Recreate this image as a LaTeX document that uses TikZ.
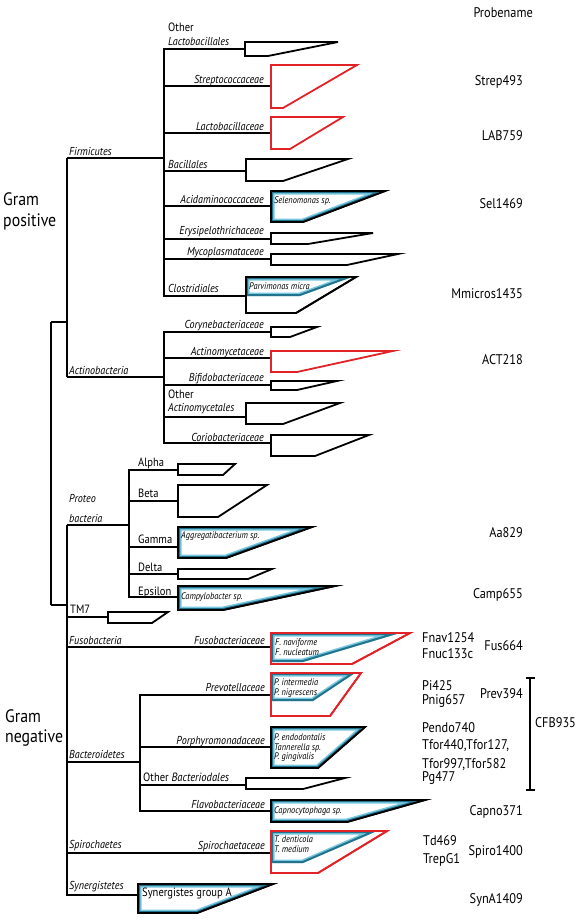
\documentclass[tikz,border=0pt]{standalone}
\usepackage{fontspec}
\setmainfont{PT Sans}[FakeStretch=0.88]
\definecolor{rot}{RGB}{225,35,40}
\definecolor{dunkelblau}{RGB}{35,115,140}
\definecolor{hellblau}{RGB}{120,200,225}
%Keil: Stil, x, oben, unten, Spitze, unten rechts
\newcommand{\keil}[6]{\draw[#1] (#2,#3) -- (#5,#3) -- (#6,#4) -- (#2,#4) -- cycle;}
%blaues Band innen
\newcommand{\band}[5]{%
  \begin{scope}
    \clip (#1,#2) -- (#4,#2) -- (#5,#3) -- (#1,#3) -- cycle;
    \draw[hellblau, line width=7pt] (#1,#2) -- (#4,#2) -- (#5,#3) -- (#1,#3) -- cycle;
    \draw[dunkelblau, line width=4pt] (#1,#2) -- (#4,#2) -- (#5,#3) -- (#1,#3) -- cycle;
  \end{scope}}
\begin{document}
\begin{tikzpicture}[x=1pt, y=-1pt,
                        ast/.style={line width=1.8pt},
                        keil/.style={draw=black, line width=1.8pt, fill=white},
                        rotkeil/.style={keil, draw=rot},
                        rand/.style={draw=black, line width=1.8pt},
                        rotrand/.style={rand, draw=rot},
                        lab/.style={font=\fontsize{11.5}{13}\selectfont\itshape, inner sep=0pt},
                        gr/.style={font=\fontsize{12}{14}\selectfont, inner sep=0pt},
                        klein/.style={font=\fontsize{9.5}{10}\selectfont\itshape, inner sep=0pt, anchor=base west},
                        probe/.style={font=\fontsize{14}{16}\selectfont, inner sep=0pt},
                        gram/.style={font=\fontsize{18}{20}\selectfont, inner sep=0pt, anchor=base west},
                        ]
                        \useasboundingbox (0,0) rectangle (581,919);
                        %Verzweigungen
                        \coordinate (wurzel-p) at (51,322);
                        \coordinate (wurzel-n) at (51,605);
                        \coordinate (gpos) at (67,322);
                        \coordinate (gneg) at (67,605);
                        \coordinate (firm) at (67,158);
                        \coordinate (firm-k) at (164,158);
                        \coordinate (act) at (67,377);
                        \coordinate (act-k) at (164,377);
                        \coordinate (prot) at (67,525);
                        \coordinate (prot-k) at (129,525);
                        \coordinate (bact-k) at (140,762);
                        %Blaetter
                        \coordinate (olac) at (245,49);
                        \coordinate (strep) at (271,86);
                        \coordinate (lacto) at (271,133);
                        \coordinate (bacil) at (246,171);
                        \coordinate (acid) at (271,206);
                        \coordinate (erys) at (271,239);
                        \coordinate (myco) at (271,259);
                        \coordinate (clos) at (246,296);
                        \coordinate (cory) at (271,332);
                        \coordinate (actm) at (271,358);
                        \coordinate (bifi) at (271,385);
                        \coordinate (oact) at (246,417);
                        \coordinate (corio) at (271,443);
                        \coordinate (alpha) at (178,470);
                        \coordinate (beta) at (178,501);
                        \coordinate (gamma) at (178,547);
                        \coordinate (delta) at (178,574);
                        \coordinate (eps) at (178,597);
                        \coordinate (tm7) at (108,617);
                        \coordinate (fuso) at (271,647);
                        \coordinate (prev) at (271,695);
                        \coordinate (porph) at (271,747);
                        \coordinate (obac) at (246,785);
                        \coordinate (flavo) at (271,811);
                        \coordinate (spiro) at (271,853);
                        \coordinate (syn) at (138,895);
                        %Baum
                        \draw[ast] (wurzel-p) -- (wurzel-n);
                        \draw[ast] (wurzel-p) -- (gpos);
                        \draw[ast] (wurzel-n) -- (gneg);
                        \draw[ast] (firm) -- (act);
                        \draw[ast] (firm) -- (firm-k);
                        \draw[ast] (act) -- (act-k);
                        \foreach \b in {olac,strep,lacto,bacil,acid,erys,myco,clos}
                        \draw[ast] (firm-k) |- (\b);
                        \foreach \b in {cory,actm,bifi,oact,corio}
                        \draw[ast] (act-k) |- (\b);
                        \draw[ast] (prot) |- (syn);
                        \draw[ast] (prot) -- (prot-k);
                        \foreach \b in {alpha,beta,gamma,delta,eps}
                        \draw[ast] (prot-k) |- (\b);
                        \foreach \b in {tm7,fuso,spiro}
                        \draw[ast] (prot) |- (\b);
                        \draw[ast] (prot) |- (bact-k);
                        \foreach \b in {prev,porph,obac,flavo}
                        \draw[ast] (bact-k) |- (\b);
                        %Keile Firmicutes
                        \keil{keil}{245}{42}{56}{338}{268}
                        \keil{rotkeil}{271}{65}{108}{357}{283}
                        \keil{rotkeil}{271}{117}{149}{343}{290}
                        \keil{keil}{246}{159}{181}{348}{283}
                        \keil{keil}{271}{191}{222}{385}{303}
                        \band{271}{191}{222}{385}{303}
                        \keil{rand}{271}{191}{222}{385}{303}
                        \keil{keil}{271}{233}{244}{373}{308}
                        \keil{keil}{271}{254}{265}{398}{347}
                        \keil{keil}{246}{277}{313}{356}{296}
                        \band{246}{277}{296}{352}{300}
                        \keil{rand}{246}{277}{313}{356}{296}
                        %Keile Actinobacteria
                        \keil{keil}{271}{327}{337}{317}{290}
                        \keil{rotkeil}{271}{351}{372}{393}{297}
                        \keil{keil}{271}{381}{390}{337}{297}
                        \keil{keil}{246}{403}{424}{340}{283}
                        \keil{keil}{271}{435}{456}{369}{315}
                        %Keile Proteobacteria, TM7
                        \keil{keil}{178}{464}{475}{235}{223}
                        \keil{keil}{178}{485}{517}{267}{218}
                        \keil{keil}{178}{527}{558}{312}{226}
                        \band{178}{527}{558}{312}{226}
                        \keil{rand}{178}{527}{558}{312}{226}
                        \keil{keil}{178}{569}{579}{272}{248}
                        \keil{keil}{178}{586}{610}{335}{223}
                        \band{178}{586}{610}{335}{223}
                        \keil{rand}{178}{586}{610}{335}{223}
                        \keil{keil}{108}{612}{623}{168}{152}
                        %Keile Gram negativ
                        \keil{rotkeil}{271}{633}{664}{410}{352}
                        \band{271}{633}{662}{400}{303}
                        \keil{rotrand}{271}{633}{664}{410}{352}
                        \keil{rotkeil}{271}{673}{716}{361}{330}
                        \band{271}{673}{701}{355}{313}
                        \keil{rotrand}{271}{673}{716}{361}{330}
                        \keil{keil}{271}{727}{768}{365}{318}
                        \band{271}{727}{768}{365}{318}
                        \keil{rand}{271}{727}{768}{365}{318}
                        \keil{keil}{246}{778}{789}{345}{303}
                        \keil{keil}{271}{800}{822}{425}{347}
                        \band{271}{800}{822}{425}{347}
                        \keil{rand}{271}{800}{822}{425}{347}
                        \keil{rotkeil}{271}{831}{873}{387}{318}
                        \band{271}{831}{863}{377}{303}
                        \keil{rotrand}{271}{831}{873}{387}{318}
                        \keil{keil}{138}{884}{913}{273}{197}
                        \band{138}{884}{913}{273}{197}
                        \keil{rand}{138}{884}{913}{273}{197}
                        %Beschriftung Firmicutes
                        \node[lab, anchor=base west] (l-firm) at (69,155) {Firmicutes};
                        \node[gr, anchor=base west] (l-olac1) at (168,31) {Other};
                        \node[lab, anchor=base west] (l-olac2) at (168,45) {Lactobacillales};
                        \node[lab, anchor=base east] (l-strep) at (264,83) {Streptococcaceae};
                        \node[lab, anchor=base east] (l-lacto) at (264,130) {Lactobacillaceae};
                        \node[lab, anchor=base west] (l-bacil) at (168,168) {Bacillales};
                        \node[lab, anchor=base east] (l-acid) at (264,203) {Acidaminococcaceae};
                        \node[lab, anchor=base east] (l-erys) at (264,234) {Erysipelothrichaceae};
                        \node[lab, anchor=base east] (l-myco) at (264,255) {Mycoplasmataceae};
                        \node[lab, anchor=base west] (l-clos) at (168,292) {Clostridiales};
                        %Beschriftung Actinobacteria
                        \node[lab, anchor=base west] (l-act) at (69,374) {Actinobacteria};
                        \node[lab, anchor=base east] (l-cory) at (264,328) {Corynebacteriaceae};
                        \node[lab, anchor=base east] (l-actm) at (264,355) {Actinomycetaceae};
                        \node[lab, anchor=base east] (l-bifi) at (264,381) {Bifidobacteriaceae};
                        \node[gr, anchor=base west] (l-oact1) at (168,398) {Other};
                        \node[lab, anchor=base west] (l-oact2) at (168,411) {Actinomycetales};
                        \node[lab, anchor=base east] (l-corio) at (264,441) {Coriobacteriaceae};
                        %Beschriftung Proteobacteria
                        \node[lab, anchor=base west] (l-prot1) at (69,502) {Proteo};
                        \node[lab, anchor=base west] (l-prot2) at (69,522) {bacteria};
                        \node[gr, anchor=base west] (l-alpha) at (138,466) {Alpha};
                        \node[gr, anchor=base west] (l-beta) at (138,497) {Beta};
                        \node[gr, anchor=base west] (l-gamma) at (138,543) {Gamma};
                        \node[gr, anchor=base west] (l-delta) at (138,571) {Delta};
                        \node[gr, anchor=base west] (l-eps) at (138,595) {Epsilon};
                        \node[gr, anchor=base west] (l-tm7) at (70,613) {TM7};
                        %Beschriftung Gram negativ
                        \node[lab, anchor=base west] (l-fuso) at (69,644) {Fusobacteria};
                        \node[lab, anchor=base east] (l-fusf) at (265,644) {Fusobacteriaceae};
                        \node[lab, anchor=base west] (l-bact) at (69,758) {Bacteroidetes};
                        \node[lab, anchor=base east] (l-prev) at (265,691) {Prevotellaceae};
                        \node[lab, anchor=base east] (l-porph) at (265,744) {Porphyromonadaceae};
                        \node[gr, anchor=base west] (l-obac) at (143,781) {Other \textit{Bacteriodales}};
                        \node[lab, anchor=base east] (l-flavo) at (265,808) {Flavobacteriaceae};
                        \node[lab, anchor=base west] (l-spiro) at (69,848) {Spirochaetes};
                        \node[lab, anchor=base east] (l-spirf) at (265,849) {Spirochaetaceae};
                        \node[lab, anchor=base west] (l-syn) at (69,889) {Synergistetes};
                        %Arten in den Keilen
                        \node[klein] (k-sel) at (274,203) {Selenomonas sp.};
                        \node[klein] (k-parv) at (249,289) {Parvimonas micra};
                        \node[klein] (k-aggr) at (181,538) {Aggregatibacterium sp.};
                        \node[klein] (k-camp) at (181,599) {Campylobacter sp.};
                        \node[klein] (k-fnav) at (275,645) {F. naviforme};
                        \node[klein] (k-fnuc) at (275,655) {F. nucleatum};
                        \node[klein] (k-pint) at (274,685) {P. intermedia};
                        \node[klein] (k-pnig) at (274,695) {P. nigrescens};
                        \node[klein] (k-pend) at (274,740) {P. endodontalis};
                        \node[klein] (k-tann) at (274,750) {Tannerella sp.};
                        \node[klein] (k-pgin) at (274,759) {P. gingivalis};
                        \node[klein] (k-capn) at (274,813) {Capnocytophaga sp.};
                        \node[klein] (k-tden) at (274,842) {T. denticola};
                        \node[klein] (k-tmed) at (274,852) {T. medium};
                        \node[gr, anchor=base west] (k-syn) at (142,896) {Synergistes group A};
                        %Gram
                        \node[gram] (gp1) at (3,205) {Gram};
                        \node[gram] (gp2) at (3,226) {positive};
                        \node[gram] (gn1) at (5,722) {Gram};
                        \node[gram] (gn2) at (5,742) {negative};
                        %Sonden
                        \node[probe, anchor=base east] (s-kopf) at (533,17) {Probename};
                        \node[probe, anchor=base east] (s-strep) at (523,85) {Strep493};
                        \node[probe, anchor=base east] (s-lab) at (523,140) {LAB759};
                        \node[probe, anchor=base east] (s-sel) at (523,208) {Sel1469};
                        \node[probe, anchor=base east] (s-mmic) at (523,298) {Mmicros1435};
                        \node[probe, anchor=base east] (s-act) at (523,364) {ACT218};
                        \node[probe, anchor=base east] (s-aa) at (523,537) {Aa829};
                        \node[probe, anchor=base east] (s-camp) at (523,598) {Camp655};
                        \node[probe, anchor=base west] (s-fnav) at (422,642) {Fnav1254};
                        \node[probe, anchor=base west] (s-fnuc) at (422,658) {Fnuc133c};
                        \node[probe, anchor=base east] (s-fus) at (523,650) {Fus664};
                        \node[probe, anchor=base west] (s-pi) at (422,690) {Pi425};
                        \node[probe, anchor=base west] (s-pnig) at (422,704) {Pnig657};
                        \node[probe, anchor=base east] (s-prev) at (523,698) {Prev394};
                        \node[probe, anchor=base west] (s-pend) at (422,732) {Pendo740};
                        \node[probe, anchor=base west] (s-tfa) at (422,749) {Tfor440,Tfor127,};
                        \node[probe, anchor=base west] (s-tfb) at (422,768) {Tfor997,Tfor582};
                        \node[probe, anchor=base west] (s-pg) at (422,781) {Pg477};
                        \node[probe, anchor=base east] (s-capn) at (523,815) {Capno371};
                        \node[probe, anchor=base west] (s-td) at (423,845) {Td469};
                        \node[probe, anchor=base west] (s-trep) at (423,863) {TrepG1};
                        \node[probe, anchor=base east] (s-spiro) at (523,855) {Spiro1400};
                        \node[probe, anchor=base east] (s-syn) at (523,903) {SynA1409};
                        %Klammer CFB
                        \coordinate (kl-o) at (530,678);
                        \coordinate (kl-u) at (530,790);
                        \draw[ast] (kl-o) -- (kl-u);
                        \draw[ast] ([xshift=-4pt]kl-o) -- ([xshift=5pt]kl-o);
                        \draw[ast] ([xshift=-4pt]kl-u) -- ([xshift=5pt]kl-u);
                        \node[probe, anchor=base west] (s-cfb) at (535,727) {CFB935};
                \end{tikzpicture}
\end{document}
